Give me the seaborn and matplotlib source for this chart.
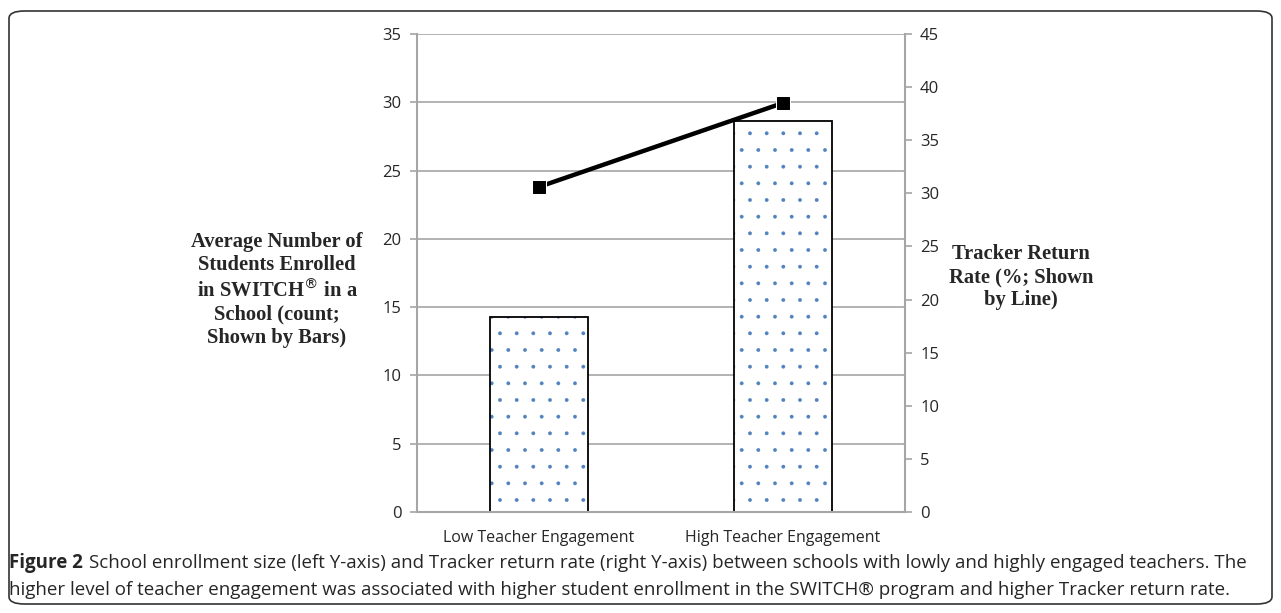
import numpy as np
import pandas as pd
import matplotlib.pyplot as plt
import seaborn as sns
from matplotlib.patches import FancyBboxPatch

# data
groups = ["Low Teacher Engagement", "High Teacher Engagement"]
enrolled = [14.3, 28.6]        # left axis, bars
return_rate = [30.6, 38.5]     # right axis, line
left_ticks = [0, 5, 10, 15, 20, 25, 30, 35]
right_ticks = [0, 5, 10, 15, 20, 25, 30, 35, 40, 45]

df = pd.DataFrame({"group": groups, "enrolled": enrolled, "rate": return_rate})

sns.set_style("white")
plt.rcParams["font.family"] = ["Open Sans", "DejaVu Sans"]
plt.rcParams["hatch.linewidth"] = 0.3

fig = plt.figure(figsize=(12.81, 6.13), dpi=100)
ax = fig.add_axes([0.3253, 0.1648, 0.381, 0.7797])

grey = "#a6a6a6"

# dotted fill, then black outline on top
sns.barplot(data=df, x="group", y="enrolled", ax=ax, width=0.4,
            color="white", edgecolor="#4f81bd", hatch=".", linewidth=0)
sns.barplot(data=df, x="group", y="enrolled", ax=ax, width=0.4,
            fill=False, edgecolor="black", linewidth=1.3)

ax.set_ylim(0, 35)
ax.set_xlim(-0.5, 1.5)
ax.set_yticks(left_ticks)
ax.yaxis.grid(True, color=grey, linewidth=1.2)
ax.set_axisbelow(True)
ax.set_xlabel("")
ax.set_ylabel("")
for s in ["left", "right", "bottom"]:
    ax.spines[s].set_color(grey)
    ax.spines[s].set_linewidth(1.5)
ax.spines["top"].set_visible(False)
ax.tick_params(axis="y", length=5, color=grey, width=1.2, labelsize=12, pad=6)
ax.tick_params(axis="x", length=0, labelsize=11.5, pad=13)
ax.set_xticks([-0.5, 0.5, 1.5], minor=True)
ax.tick_params(axis="x", which="minor", length=6, color=grey, width=1.2)

ax2 = ax.twinx()
sns.lineplot(data=df, x="group", y="rate", ax=ax2, color="black", linewidth=3.2,
             marker="s", markersize=10, sort=False)
ax2.set_ylim(0, 45)
ax2.set_yticks(right_ticks)
ax2.set_ylabel("")
for s in ["left", "right", "bottom", "top"]:
    ax2.spines[s].set_visible(False)
ax2.tick_params(axis="y", length=5, color=grey, width=1.2, labelsize=12, pad=6)

# axis titles, bold serif
fig.text(277 / 1281, 1 - 290 / 613,
         "Average Number of\nStudents Enrolled\nin SWITCH$^{®}$ in a\nSchool (count;\nShown by Bars)",
         ha="center", va="center", family="Liberation Serif", weight="bold",
         fontsize=14.8, linespacing=1.2)
fig.text(1021 / 1281, 1 - 277 / 613,
         "Tracker Return\nRate (%; Shown\nby Line)",
         ha="center", va="center", family="Liberation Serif", weight="bold",
         fontsize=14.8, linespacing=1.2)

# caption
t1 = fig.text(9 / 1281, 1 - 563 / 613, "Figure 2", weight="bold", fontsize=13.5,
              va="center", ha="left")
fig.canvas.draw()
bb = t1.get_window_extent(fig.canvas.get_renderer())
fig.text((bb.x1 + 6) / 1281, 1 - 563 / 613,
         "School enrollment size (left Y-axis) and Tracker return rate (right Y-axis) between schools with lowly and highly engaged teachers. The",
         fontsize=13.5, va="center", ha="left")
fig.text(9 / 1281, 1 - 590 / 613,
         "higher level of teacher engagement was associated with higher student enrollment in the SWITCH® program and higher Tracker return rate.",
         fontsize=13.5, va="center", ha="left")

# rounded frame
frame = FancyBboxPatch((9 / 1281, 9 / 613), 1263 / 1281, 593 / 613,
                       boxstyle="round,pad=0,rounding_size=0.012",
                       transform=fig.transFigure, fill=False,
                       edgecolor="#333333", linewidth=1.2)
fig.patches.append(frame)

fig.savefig("out.png", dpi=100)
